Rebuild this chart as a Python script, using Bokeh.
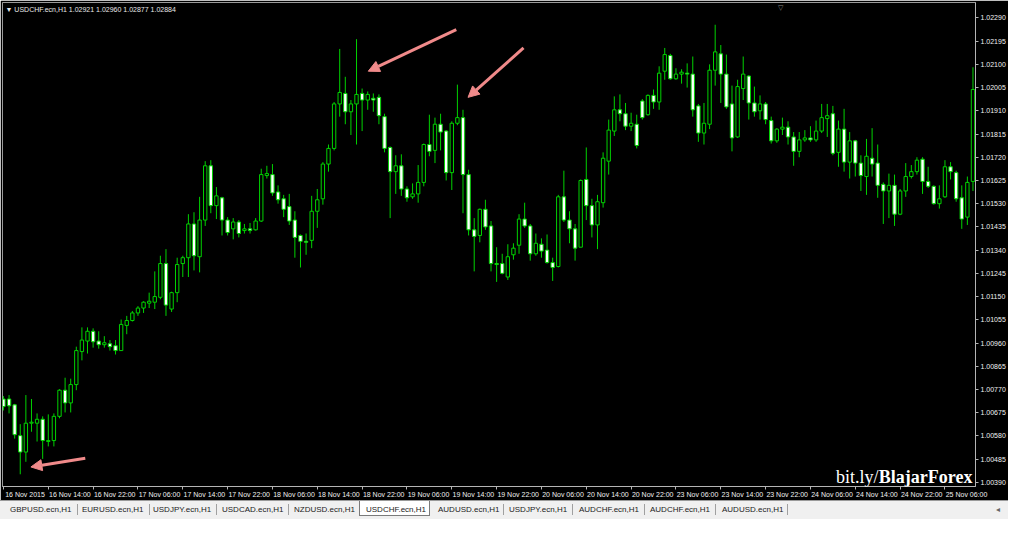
from bokeh.plotting import figure
from bokeh.models import (ColumnDataSource, FixedTicker, Label, Arrow, NormalHead,
                          Div, PrintfTickFormatter)
from bokeh.layouts import column
from bokeh.embed import file_html
from bokeh.resources import INLINE

# ---------------- data (USDCHF.ecn, H1, from 16 Nov 2015 06:00) ----------------
time_labels = ["16 Nov 2015", "16 Nov 14:00", "16 Nov 22:00", "17 Nov 06:00", "17 Nov 14:00",
               "17 Nov 22:00", "18 Nov 06:00", "18 Nov 14:00", "18 Nov 22:00", "19 Nov 06:00",
               "19 Nov 14:00", "19 Nov 22:00", "20 Nov 06:00", "20 Nov 14:00", "20 Nov 22:00",
               "23 Nov 06:00", "23 Nov 14:00", "23 Nov 22:00", "24 Nov 06:00", "24 Nov 14:00",
               "24 Nov 22:00", "25 Nov 06:00"]
bars_per_label = 8

price_ticks = [1.00390, 1.00485, 1.00580, 1.00675, 1.00770, 1.00865, 1.00960, 1.01055,
               1.01150, 1.01245, 1.01340, 1.01435, 1.01530, 1.01625, 1.01720, 1.01815,
               1.01910, 1.02005, 1.02100, 1.02195, 1.02290]

open_ = [
    1.00731, 1.00731, 1.00707, 1.00581, 1.00514, 1.00632, 1.00632, 1.00648, 1.00557, 1.00561,
    1.00660, 1.00767, 1.00715, 1.00790, 1.00925, 1.00968, 1.01008, 1.00968, 1.00953, 1.00957,
    1.00949, 1.00929, 1.01032, 1.01052, 1.01083, 1.01103, 1.01123, 1.01127, 1.01147, 1.01285,
    1.01099, 1.01166, 1.01285, 1.01309, 1.01447, 1.01313, 1.01463, 1.01685, 1.01522, 1.01554,
    1.01463, 1.01427, 1.01455, 1.01420, 1.01427, 1.01423, 1.01459, 1.01645, 1.01649, 1.01578,
    1.01550, 1.01518, 1.01463, 1.01400, 1.01376, 1.01380, 1.01499, 1.01550, 1.01692, 1.01756,
    1.01938, 1.01981, 1.01906, 1.01938, 1.01981, 1.01954, 1.01961, 1.01965, 1.01886, 1.01760,
    1.01661, 1.01685, 1.01590, 1.01558, 1.01570, 1.01617, 1.01772, 1.01748, 1.01855, 1.01827,
    1.01657, 1.01859, 1.01882, 1.01649, 1.01423, 1.01400, 1.01507, 1.01439, 1.01285, 1.01285,
    1.01230, 1.01321, 1.01360, 1.01467, 1.01439, 1.01325, 1.01364, 1.01340, 1.01289, 1.01273,
    1.01558, 1.01463, 1.01427, 1.01352, 1.01629, 1.01522, 1.01443, 1.01534, 1.01704, 1.01827,
    1.01914, 1.01898, 1.01847, 1.01855, 1.01950, 1.01894, 1.01973, 1.01946, 1.02072, 1.02136,
    1.02041, 1.02060, 1.02064, 1.02060, 1.01930, 1.01819, 1.01855, 1.02076, 1.02143, 1.02060,
    1.01938, 1.01803, 1.02001, 1.02052, 1.01942, 1.01910, 1.01938, 1.01870, 1.01787, 1.01835,
    1.01843, 1.01803, 1.01744, 1.01791, 1.01799, 1.01791, 1.01827, 1.01878, 1.01898, 1.01740,
    1.01835, 1.01700, 1.01787, 1.01696, 1.01641, 1.01716, 1.01696, 1.01609, 1.01582, 1.01605,
    1.01487, 1.01582, 1.01641, 1.01661, 1.01712, 1.01621, 1.01601, 1.01530, 1.01558, 1.01681,
    1.01657, 1.01554, 1.01475, 1.01621]

high = [
    1.00743, 1.00747, 1.00711, 1.00628, 1.00747, 1.00731, 1.00672, 1.00660, 1.00668, 1.00672,
    1.00771, 1.00818, 1.00814, 1.00945, 1.01024, 1.01024, 1.01020, 1.01008, 1.00988, 1.00972,
    1.00972, 1.01056, 1.01071, 1.01091, 1.01111, 1.01131, 1.01166, 1.01253, 1.01317, 1.01344,
    1.01170, 1.01309, 1.01317, 1.01487, 1.01495, 1.01558, 1.01704, 1.01708, 1.01598, 1.01558,
    1.01475, 1.01471, 1.01463, 1.01447, 1.01451, 1.01471, 1.01673, 1.01685, 1.01692, 1.01605,
    1.01566, 1.01570, 1.01499, 1.01404, 1.01408, 1.01562, 1.01590, 1.01700, 1.01772, 1.01946,
    1.02163, 1.02049, 1.01954, 1.02203, 1.02001, 1.01989, 1.01981, 1.01977, 1.01898, 1.01764,
    1.01728, 1.01732, 1.01601, 1.01613, 1.01688, 1.01776, 1.01894, 1.01882, 1.01898, 1.01831,
    1.01867, 1.02017, 1.01914, 1.01669, 1.01471, 1.01510, 1.01546, 1.01459, 1.01352, 1.01325,
    1.01364, 1.01368, 1.01487, 1.01534, 1.01447, 1.01408, 1.01388, 1.01404, 1.01309, 1.01566,
    1.01665, 1.01499, 1.01447, 1.01629, 1.01760, 1.01550, 1.01566, 1.01740, 1.01874, 1.01969,
    1.01977, 1.01942, 1.01902, 1.01894, 1.01958, 1.01977, 1.01997, 1.02092, 1.02167, 1.02143,
    1.02084, 1.02080, 1.02104, 1.02132, 1.01938, 1.01942, 1.02100, 1.02262, 1.02179, 1.02140,
    1.02013, 1.02037, 1.02132, 1.02056, 1.02009, 1.01973, 1.01946, 1.01886, 1.01839, 1.01882,
    1.01867, 1.01823, 1.01823, 1.01831, 1.01847, 1.01870, 1.01938, 1.01938, 1.01930, 1.01870,
    1.01918, 1.01823, 1.01791, 1.01728, 1.01795, 1.01839, 1.01772, 1.01617, 1.01653, 1.01649,
    1.01590, 1.01696, 1.01688, 1.01720, 1.01720, 1.01681, 1.01605, 1.01605, 1.01708, 1.01700,
    1.01665, 1.01605, 1.01641, 1.02088]

low = [
    1.00684, 1.00672, 1.00569, 1.00423, 1.00474, 1.00597, 1.00557, 1.00486, 1.00537, 1.00537,
    1.00652, 1.00676, 1.00676, 1.00767, 1.00889, 1.00917, 1.00941, 1.00937, 1.00941, 1.00929,
    1.00913, 1.00929, 1.00996, 1.01048, 1.01071, 1.01083, 1.01103, 1.01099, 1.01139, 1.01071,
    1.01087, 1.01127, 1.01230, 1.01230, 1.01257, 1.01249, 1.01439, 1.01491, 1.01467, 1.01400,
    1.01400, 1.01384, 1.01392, 1.01408, 1.01408, 1.01420, 1.01455, 1.01633, 1.01562, 1.01530,
    1.01475, 1.01443, 1.01309, 1.01269, 1.01321, 1.01348, 1.01431, 1.01526, 1.01661, 1.01748,
    1.01886, 1.01855, 1.01811, 1.01772, 1.01827, 1.01914, 1.01906, 1.01855, 1.01740, 1.01471,
    1.01570, 1.01562, 1.01538, 1.01550, 1.01534, 1.01601, 1.01724, 1.01696, 1.01748, 1.01625,
    1.01586, 1.01851, 1.01491, 1.01400, 1.01253, 1.01372, 1.01423, 1.01253, 1.01210, 1.01241,
    1.01218, 1.01301, 1.01325, 1.01431, 1.01297, 1.01317, 1.01309, 1.01285, 1.01214, 1.01269,
    1.01455, 1.01368, 1.01297, 1.01352, 1.01463, 1.01392, 1.01344, 1.01514, 1.01649, 1.01807,
    1.01867, 1.01831, 1.01827, 1.01756, 1.01874, 1.01890, 1.01918, 1.01914, 1.02037, 1.02037,
    1.02037, 1.02021, 1.02005, 1.01886, 1.01783, 1.01772, 1.01835, 1.02013, 1.01942, 1.01918,
    1.01744, 1.01799, 1.01954, 1.01874, 1.01886, 1.01874, 1.01855, 1.01776, 1.01779, 1.01811,
    1.01772, 1.01685, 1.01720, 1.01783, 1.01783, 1.01783, 1.01819, 1.01803, 1.01728, 1.01681,
    1.01661, 1.01633, 1.01641, 1.01582, 1.01566, 1.01641, 1.01554, 1.01447, 1.01471, 1.01439,
    1.01483, 1.01558, 1.01633, 1.01649, 1.01570, 1.01594, 1.01526, 1.01510, 1.01554, 1.01629,
    1.01538, 1.01427, 1.01443, 1.01582]

close = [
    1.00700, 1.00703, 1.00585, 1.00514, 1.00632, 1.00636, 1.00648, 1.00561, 1.00561, 1.00660,
    1.00767, 1.00715, 1.00790, 1.00929, 1.00972, 1.01008, 1.00965, 1.00953, 1.00961, 1.00945,
    1.00929, 1.01036, 1.01052, 1.01083, 1.01103, 1.01127, 1.01131, 1.01150, 1.01285, 1.01115,
    1.01166, 1.01281, 1.01309, 1.01447, 1.01317, 1.01463, 1.01685, 1.01522, 1.01562, 1.01463,
    1.01412, 1.01455, 1.01408, 1.01427, 1.01420, 1.01459, 1.01649, 1.01653, 1.01574, 1.01546,
    1.01507, 1.01459, 1.01392, 1.01376, 1.01372, 1.01499, 1.01546, 1.01692, 1.01756, 1.01938,
    1.01985, 1.01906, 1.01938, 1.01977, 1.01954, 1.01977, 1.01954, 1.01890, 1.01756, 1.01661,
    1.01685, 1.01590, 1.01554, 1.01570, 1.01617, 1.01772, 1.01744, 1.01855, 1.01823, 1.01657,
    1.01859, 1.01882, 1.01649, 1.01423, 1.01396, 1.01507, 1.01435, 1.01285, 1.01281, 1.01245,
    1.01313, 1.01348, 1.01467, 1.01439, 1.01325, 1.01368, 1.01336, 1.01289, 1.01269, 1.01558,
    1.01463, 1.01427, 1.01348, 1.01625, 1.01522, 1.01443, 1.01538, 1.01716, 1.01831, 1.01914,
    1.01898, 1.01847, 1.01859, 1.01768, 1.01882, 1.01973, 1.01946, 1.02064, 1.02140, 1.02041,
    1.02060, 1.02068, 1.02060, 1.01914, 1.01819, 1.01859, 1.02076, 1.02151, 1.02060, 1.01926,
    1.01799, 1.02009, 1.02060, 1.01942, 1.01906, 1.01938, 1.01874, 1.01787, 1.01835, 1.01843,
    1.01803, 1.01744, 1.01791, 1.01799, 1.01791, 1.01827, 1.01882, 1.01890, 1.01736, 1.01835,
    1.01700, 1.01787, 1.01696, 1.01645, 1.01724, 1.01692, 1.01605, 1.01582, 1.01605, 1.01487,
    1.01582, 1.01641, 1.01661, 1.01708, 1.01621, 1.01601, 1.01530, 1.01550, 1.01681, 1.01661,
    1.01550, 1.01467, 1.01617, 1.01997]

header_text = "\u25BC USDCHF.ecn,H1  1.02921 1.02960 1.02877 1.02884"
watermark_regular = "bit.ly/"
watermark_bold = "BlajarForex"
tabs = ["GBPUSD.ecn,H1", "EURUSD.ecn,H1", "USDJPY.ecn,H1", "USDCAD.ecn,H1", "NZDUSD.ecn,H1",
        "USDCHF.ecn,H1", "AUDUSD.ecn,H1", "USDJPY.ecn,H1", "AUDCHF.ecn,H1", "AUDCHF.ecn,H1",
        "AUDUSD.ecn,H1"]
active_tab = "USDCHF.ecn,H1"

# annotation arrows (bar index, price): tail -> head
arrows = [((80.8, 1.02242), (65.1, 1.02072)),
          ((92.8, 1.02167), (82.9, 1.01965)),
          ((14.6, 1.00489), (4.9, 1.00453))]

# ---------------- styling ----------------
GREEN = "#00D200"
AXIS_GREY = "#B4B4B4"
FONT = "Liberation Sans"
LABEL_SHIFT = 3.85   # time labels start at their tick (MT4 style), in bars

n = len(open_)
idx = list(range(n))
src = ColumnDataSource(dict(
    idx=idx,
    open=open_, high=high, low=low, close=close,
    top=[max(o, c) for o, c in zip(open_, close)],
    bottom=[min(o, c) for o, c in zip(open_, close)],
    fill=["#000000" if c >= o else "#FFFFFF" for o, c in zip(open_, close)],
))

p = figure(width=1008, height=500, x_range=(-0.17, 173.45), y_range=(1.00373, 1.02353),
           output_backend="svg", toolbar_location=None,
           x_axis_location="below", y_axis_location="right",
           background_fill_color="black", border_fill_color="black",
           min_border_left=2, min_border_top=2, min_border_right=0, min_border_bottom=0)
p.grid.visible = False
p.outline_line_color = "#9A9A9A"

p.segment(x0="idx", y0="low", x1="idx", y1="high", line_color=GREEN, line_width=1, source=src)
p.vbar(x="idx", width=0.6, top="top", bottom="bottom", fill_color="fill",
       line_color=GREEN, line_width=1, source=src)

# price axis
p.yaxis.ticker = FixedTicker(ticks=price_ticks, minor_ticks=[])
p.yaxis.formatter = PrintfTickFormatter(format="%.5f")
p.yaxis.major_label_text_color = "#F0F0F0"
p.yaxis.major_label_text_font = FONT
p.yaxis.major_label_text_font_size = "7px"
p.yaxis.axis_line_color = AXIS_GREY
p.yaxis.major_tick_line_color = AXIS_GREY
p.yaxis.major_tick_in = 0
p.yaxis.major_tick_out = 3
p.yaxis.major_label_standoff = 2

# time axis: small tick marks at the bars, label text starting right of each tick
tick_idx = [k * bars_per_label for k in range(len(time_labels))]
label_pos = [t + LABEL_SHIFT for t in tick_idx]
p.xaxis.ticker = FixedTicker(ticks=label_pos, minor_ticks=tick_idx)
p.xaxis.major_label_overrides = {pos: lbl for pos, lbl in zip(label_pos, time_labels)}
p.xaxis.major_label_text_color = "#F0F0F0"
p.xaxis.major_label_text_font = FONT
p.xaxis.major_label_text_font_size = "7px"
p.xaxis.axis_line_color = AXIS_GREY
p.xaxis.major_tick_line_color = None
p.xaxis.major_tick_in = 0
p.xaxis.major_tick_out = 3
p.xaxis.minor_tick_line_color = AXIS_GREY
p.xaxis.minor_tick_in = 0
p.xaxis.minor_tick_out = 3
p.xaxis.major_label_standoff = 1

# header text
p.add_layout(Label(x=-0.17, y=1.02353, x_offset=3, y_offset=-3, text=header_text,
                   text_font=FONT, text_font_size="7px", text_color="#E8E8E8",
                   text_baseline="top"))
# chart shift marker
p.add_layout(Label(x=138.6, y=1.02353, y_offset=-1, text="\u25BD", text_font=FONT,
                   text_font_size="7px", text_color="#8A8A8A", text_align="center",
                   text_baseline="top"))

# arrows
for (x0, y0), (x1, y1) in arrows:
    p.add_layout(Arrow(x_start=x0, y_start=y0, x_end=x1, y_end=y1,
                       line_color="#F08A8A", line_width=3,
                       end=NormalHead(size=11, fill_color="#F08A8A", line_color="#F08A8A")))

# watermark
p.add_layout(Label(x=173.45, y=1.00412, x_offset=-3, text=watermark_bold,
                   text_font="Liberation Serif", text_font_style="bold", text_font_size="18px",
                   text_color="white", text_align="right", text_baseline="alphabetic"))
p.add_layout(Label(x=173.45, y=1.00412, x_offset=-97, text=watermark_regular,
                   text_font="Liberation Serif", text_font_size="18px",
                   text_color="white", text_align="right", text_baseline="alphabetic"))

# tab bar
tab_left = [10, 82, 153, 222, 294, 366, 438, 509, 579, 650, 722]
sep_left = [77, 149, 216, 288, 503, 572, 644, 715, 787]
parts = ['<div style="position:relative;width:1008px;height:19px;background:#F0F0F0;'
         'overflow:hidden;font-family:\'Liberation Sans\',Arial,sans-serif;font-size:8px;'
         'color:#222;border-top:1px solid #9A9A9A;box-sizing:border-box;">']
for name, left in zip(tabs, tab_left):
    if name == active_tab:
        parts.append('<div style="position:absolute;left:%dpx;top:0;width:71px;height:15px;'
                     'background:#FFFFFF;border:1px solid #7A7A7A;border-top:none;"></div>'
                     % (left - 7))
for left in sep_left:
    parts.append('<div style="position:absolute;left:%dpx;top:3px;width:1px;height:11px;'
                 'background:#A0A0A0;"></div>' % left)
for name, left in zip(tabs, tab_left):
    parts.append('<span style="position:absolute;left:%dpx;top:3px;white-space:nowrap;">%s</span>'
                 % (left, name))
parts.append('<span style="position:absolute;left:996px;top:3px;color:#666;">&#9666;</span>')
parts.append('</div>')
tabbar = Div(text="".join(parts), width=1008, height=19, margin=0)

layout = column(p, tabbar, spacing=0)
open("out.html", "w").write(file_html(layout, INLINE))
